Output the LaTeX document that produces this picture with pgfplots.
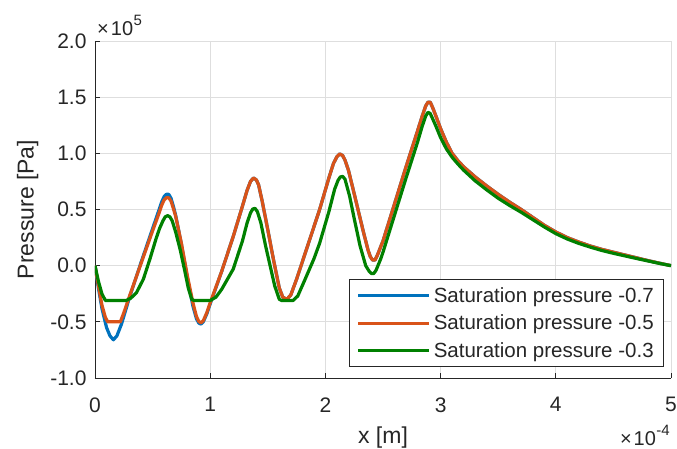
\documentclass[border=0pt]{standalone}
\usepackage{pgfplots}
\pgfplotsset{compat=1.18}
\usepackage{fontspec}
\setmainfont{Liberation Sans}
\definecolor{mblue}{rgb}{0,0.447,0.741}
\definecolor{morange}{rgb}{0.851,0.325,0.098}
\definecolor{mgreen}{rgb}{0,0.5,0}
\definecolor{axgray}{rgb}{0.15,0.15,0.15}
\begin{document}
\begin{tikzpicture}
\begin{axis}[
  name=ax,
  at={(0pt,0pt)}, anchor=south west,
  scale only axis, width=576pt, height=337pt,
  xmin=0, xmax=5, ymin=-1, ymax=2,
  axis x line*=bottom, axis y line*=left,
  axis line style={axgray, line width=0.8pt},
  tick align=inside, major tick length=5pt,
  tick style={axgray, line width=0.8pt},
  grid=major, grid style={black!13, line width=0.8pt},
  scaled ticks=false,
  xtick={0,1,2,3,4,5}, xticklabels={0,1,2,3,4,5},
  ytick={-1,-0.5,0,0.5,1,1.5,2},
  yticklabels={-1.0,-0.5,0.0,0.5,1.0,1.5,2.0},
  ticklabel style={font=\fontsize{21}{25}\selectfont, text=axgray},
  xticklabel style={yshift=-16pt},
  yticklabel style={xshift=-5pt},
  xlabel={x [m]}, ylabel={Pressure [Pa]},
  label style={font=\fontsize{23}{27}\selectfont, text=axgray},
  xlabel style={at={(axis description cs:0.5,-0.178)}, anchor=center},
  ylabel style={at={(axis description cs:-0.117,0.5)}, anchor=center, rotate=0},
  legend style={at={(axis description cs:0.988,0.033)}, anchor=south east,
    font=\fontsize{20.5}{24}\selectfont, draw=axgray, line width=0.8pt, fill=white,
    inner xsep=7pt, inner ysep=2pt, row sep=0pt,
    nodes={inner xsep=3pt, inner ysep=5.6pt, text=axgray}},
  legend cell align=left,
  legend image code/.code={\draw[#1] (0pt,0pt) -- (71pt,0pt);},
  every axis plot/.append style={line width=3.2pt, line join=round},
]
\addplot[mblue] coordinates {
(0,0) (0.03,-0.20) (0.06,-0.38) (0.10,-0.55) (0.13,-0.625) (0.16,-0.66) (0.19,-0.625)
(0.23,-0.52) (0.30,-0.28) (0.40,0.03) (0.50,0.33) (0.55,0.48) (0.58,0.57) (0.60,0.615)
(0.62,0.635) (0.64,0.635) (0.66,0.60) (0.68,0.53) (0.70,0.45) (0.75,0.19) (0.80,-0.10)
(0.85,-0.36) (0.88,-0.47) (0.90,-0.51) (0.92,-0.52) (0.94,-0.50) (0.97,-0.43)
(1.00,-0.34) (1.10,-0.05) (1.20,0.26) (1.28,0.53) (1.32,0.67) (1.35,0.75) (1.375,0.78)
(1.40,0.765) (1.42,0.72) (1.45,0.58) (1.50,0.32) (1.55,0.05) (1.60,-0.20) (1.63,-0.28)
(1.665,-0.30) (1.70,-0.26) (1.75,-0.12) (1.85,0.19) (1.95,0.50) (2.03,0.78) (2.07,0.91)
(2.10,0.97) (2.125,0.995) (2.15,0.98) (2.17,0.94) (2.20,0.85) (2.25,0.64) (2.29,0.47)
(2.33,0.30) (2.37,0.14) (2.39,0.08) (2.41,0.05) (2.43,0.05) (2.45,0.09) (2.50,0.22)
(2.60,0.55) (2.70,0.88) (2.80,1.20) (2.84,1.33) (2.87,1.42) (2.89,1.455) (2.91,1.455)
(2.93,1.41) (2.96,1.33) (3.00,1.22) (3.05,1.10) (3.10,1.00) (3.15,0.935) (3.20,0.88)
(3.30,0.79) (3.40,0.71) (3.50,0.635) (3.60,0.565) (3.70,0.50) (3.80,0.43) (3.90,0.36)
(4.00,0.30) (4.10,0.25) (4.20,0.21) (4.30,0.175) (4.40,0.145) (4.50,0.12) (4.60,0.095)
(4.70,0.07) (4.80,0.045) (4.90,0.022) (5.00,0.00)
};
\addlegendentry{Saturation pressure -0.7}
\addplot[morange] coordinates {
(0,0) (0.03,-0.18) (0.06,-0.35) (0.09,-0.46) (0.11,-0.50) (0.22,-0.50) (0.25,-0.42)
(0.30,-0.27) (0.40,0.02) (0.50,0.31) (0.55,0.45) (0.58,0.54) (0.60,0.585) (0.62,0.605)
(0.64,0.605) (0.66,0.575) (0.68,0.51) (0.70,0.44) (0.75,0.20) (0.80,-0.08) (0.85,-0.33)
(0.88,-0.45) (0.90,-0.495) (0.92,-0.51) (0.94,-0.49) (0.97,-0.42) (1.00,-0.33)
(1.10,-0.05) (1.20,0.26) (1.28,0.53) (1.32,0.67) (1.35,0.75) (1.375,0.78) (1.40,0.765)
(1.42,0.72) (1.45,0.58) (1.50,0.32) (1.55,0.05) (1.60,-0.20) (1.63,-0.28) (1.665,-0.30)
(1.70,-0.26) (1.75,-0.12) (1.85,0.19) (1.95,0.50) (2.03,0.78) (2.07,0.91) (2.10,0.97)
(2.125,0.995) (2.15,0.98) (2.17,0.94) (2.20,0.85) (2.25,0.64) (2.29,0.47) (2.33,0.30)
(2.37,0.14) (2.39,0.08) (2.41,0.05) (2.43,0.05) (2.45,0.09) (2.50,0.22) (2.60,0.55)
(2.70,0.88) (2.80,1.20) (2.84,1.33) (2.87,1.42) (2.89,1.455) (2.91,1.455) (2.93,1.41)
(2.96,1.33) (3.00,1.22) (3.05,1.10) (3.10,1.00) (3.15,0.935) (3.20,0.88) (3.30,0.79)
(3.40,0.71) (3.50,0.635) (3.60,0.565) (3.70,0.50) (3.80,0.43) (3.90,0.36) (4.00,0.30)
(4.10,0.25) (4.20,0.21) (4.30,0.175) (4.40,0.145) (4.50,0.12) (4.60,0.095) (4.70,0.07)
(4.80,0.045) (4.90,0.022) (5.00,0.00)
};
\addlegendentry{Saturation pressure -0.5}
\addplot[mgreen] coordinates {
(0,0) (0.03,-0.14) (0.06,-0.25) (0.09,-0.31) (0.27,-0.31) (0.31,-0.29) (0.36,-0.24)
(0.42,-0.12) (0.48,0.07) (0.53,0.24) (0.56,0.33) (0.59,0.40) (0.61,0.435) (0.63,0.445)
(0.65,0.435) (0.67,0.40) (0.70,0.30) (0.74,0.14) (0.78,-0.05) (0.81,-0.20) (0.84,-0.30)
(0.86,-0.31) (1.00,-0.31) (1.05,-0.28) (1.10,-0.21) (1.20,-0.03) (1.28,0.22) (1.32,0.38)
(1.35,0.47) (1.37,0.505) (1.39,0.51) (1.41,0.48) (1.44,0.38) (1.48,0.18) (1.52,0.00)
(1.56,-0.18) (1.60,-0.30) (1.62,-0.31) (1.72,-0.31) (1.76,-0.27) (1.82,-0.13) (1.90,0.06)
(1.95,0.20) (2.03,0.48) (2.08,0.68) (2.11,0.76) (2.13,0.79) (2.15,0.795) (2.17,0.77)
(2.21,0.62) (2.25,0.42) (2.30,0.18) (2.35,0.00) (2.38,-0.05) (2.40,-0.07) (2.42,-0.07)
(2.44,-0.04) (2.48,0.06) (2.50,0.12) (2.60,0.45) (2.70,0.78) (2.80,1.10) (2.84,1.24)
(2.87,1.33) (2.89,1.365) (2.91,1.355) (2.93,1.31) (2.96,1.24) (3.00,1.14) (3.05,1.04)
(3.10,0.965) (3.15,0.905) (3.20,0.85) (3.30,0.755) (3.40,0.675) (3.50,0.60) (3.60,0.535)
(3.70,0.475) (3.80,0.41) (3.90,0.345) (4.00,0.285) (4.10,0.237) (4.20,0.198)
(4.30,0.165) (4.40,0.135) (4.50,0.11) (4.60,0.087) (4.70,0.064) (4.80,0.042)
(4.90,0.02) (5.00,0.00)
};
\addlegendentry{Saturation pressure -0.3}
\end{axis}
\node[anchor=base west, text=axgray, inner sep=0pt, font=\fontsize{20}{23}\selectfont]
  at ([xshift=2pt,yshift=6pt]ax.north west) {×\hspace{2pt}10\hspace{0.5pt}\raisebox{0.5em}{\fontsize{15}{16}\selectfont 5}};
\node[anchor=base east, text=axgray, inner sep=0pt, font=\fontsize{20}{23}\selectfont]
  at ([xshift=-1pt,yshift=-67pt]ax.south east) {×\hspace{2pt}10\hspace{0.5pt}\raisebox{0.5em}{\fontsize{15}{16}\selectfont -4}};
\pgfresetboundingbox
\useasboundingbox (-95pt,-70pt) rectangle (582pt,378pt);
\end{tikzpicture}
\end{document}
